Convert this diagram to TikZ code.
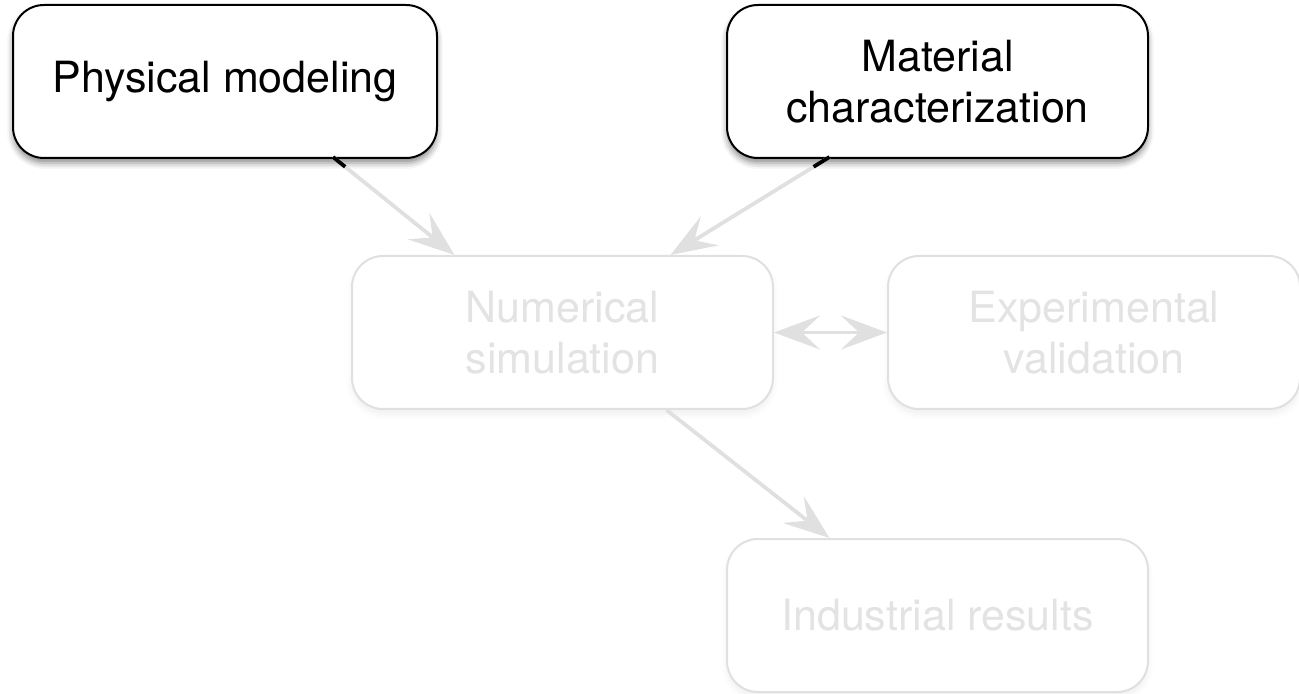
\documentclass[tikz,border=0pt]{standalone}
\usepackage{fontspec}
\setmainfont{TeX Gyre Heros}
\usetikzlibrary{arrows.meta,calc,shadows.blur}

\begin{document}
\begin{tikzpicture}[x=0.5pt,y=-0.5pt,
  box/.style={line width=1pt, rounded corners=15.5pt, fill=white, minimum width=210.5pt, minimum height=76.5pt, inner sep=0pt, align=center, font=\fontsize{21.5}{25.5}\selectfont},
  active/.style={box, draw=black, text=black, blur shadow={shadow xshift=0pt, shadow yshift=-2.5pt, shadow blur radius=3pt, shadow opacity=45}},
  faded/.style={box, draw=black!12, text=black!11, blur shadow={shadow xshift=0pt, shadow yshift=-2.5pt, shadow blur radius=3pt, shadow opacity=6}},
  link/.style={draw=black!12, line width=1.9pt},
  tip/.style={-{Stealth[length=23pt,width=17pt,inset=9pt]}},
  ]
  \useasboundingbox (0,0) rectangle (1299,694);
  % boxes
  \node[active, minimum width=212pt] (pm) at (225,81.5) {Physical modeling};
  \node[active] (mc) at (937.5,81.5) {Material\\characterization};
  \node[faded] (ns) at (562.5,332.5) {Numerical\\simulation};
  \node[faded, minimum width=206pt] (ev) at (1094,332.5) {Experimental\\validation};
  \node[faded] (ir) at (937.5,615.5) {Industrial results};
  % end points
  \coordinate (pm-out) at ([xshift=54pt,yshift=1pt]pm.south);
  \coordinate (mc-out) at ([xshift=-54pt,yshift=1pt]mc.south);
  \coordinate (ns-in1) at ([xshift=-54pt]ns.north);
  \coordinate (ns-in2) at ([xshift=54pt]ns.north);
  \coordinate (ns-out) at ([xshift=52pt]ns.south);
  \coordinate (ir-in) at ([xshift=-54pt]ir.north);
  % links
  \draw[link, tip] (pm-out) -- (ns-in1);
  \draw[link, tip] (mc-out) -- (ns-in2);
  \draw[link, {Stealth[length=23pt,width=17pt,inset=9pt]}-{Stealth[length=23pt,width=17pt,inset=9pt]}] (ns.east) -- (ev.west);
  \draw[link, tip] (ns-out) -- (ir-in);
  \draw[line width=1.9pt] (pm-out) -- ($(pm-out)!0.1!(ns-in1)$);
  \draw[line width=1.9pt] (mc-out) -- ($(mc-out)!0.1!(ns-in2)$);
\end{tikzpicture}
\end{document}
